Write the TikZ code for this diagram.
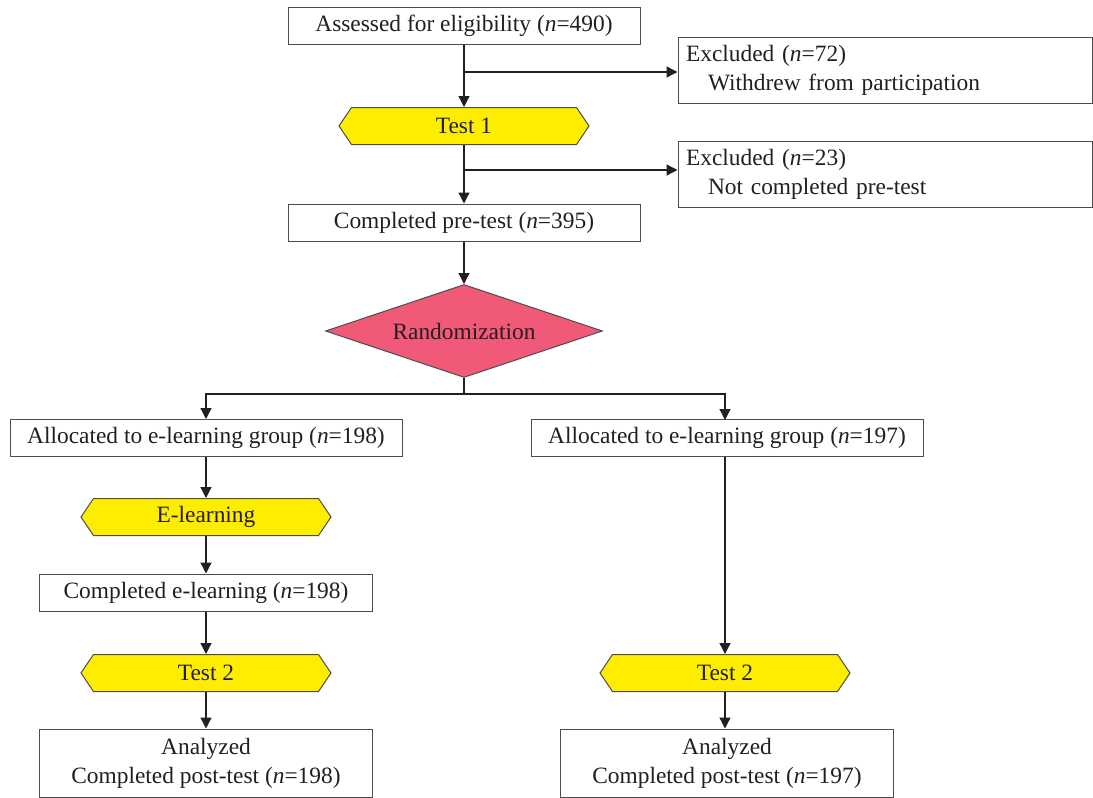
\documentclass[tikz,border=0pt]{standalone}
\usepackage{fontspec}
\setmainfont{Liberation Serif}
\usepackage{tikz}
\usetikzlibrary{arrows.meta,shapes.geometric,shapes.symbols}
\definecolor{ink}{RGB}{35,31,32}
\definecolor{testyellow}{RGB}{255,237,0}
\definecolor{randred}{RGB}{240,90,120}
\newcommand{\nn}{\textit{n}}

\begin{document}
\begin{tikzpicture}[x=0.5pt,y=-0.5pt,
  every node/.style={font=\fontsize{11.7}{14.5}\selectfont,text=ink},
  box/.style={draw=ink!80,line width=0.5pt,fill=white,inner sep=0pt,minimum height=18.5pt},
  exclbox/.style={box,minimum width=207pt,minimum height=33pt,text width=199pt,align=left},
  testhex/.style={draw=ink!80,line width=0.5pt,fill=testyellow,signal,signal to=west and east,
    signal pointer angle=112,minimum width=125pt,minimum height=18.5pt,inner sep=0pt},
  arr/.style={draw=ink,line width=0.65pt,-{Triangle[length=5.5pt,width=5.5pt]}},
  ln/.style={draw=ink,line width=0.65pt}]
\useasboundingbox (0,0) rectangle (1093,798);
% top part
\node[box,minimum width=176pt] (assess) at (464,26) {Assessed for eligibility (\nn=490)};
\node[exclbox] (excl1) at (885,70) {Excluded (\nn=72)\\\hspace*{11pt}Withdrew from participation};
\node[testhex] (test1) at (464,126) {Test 1};
\node[exclbox] (excl2) at (885,174) {Excluded (\nn=23)\\\hspace*{11pt}Not completed pre-test};
\node[box,minimum width=176pt] (pretest) at (464,222.5) {Completed pre-test (\nn=395)};
\node[diamond,aspect=2.98,draw=ink!80,line width=0.5pt,fill=randred,minimum width=138.5pt,minimum height=46.5pt,inner sep=0pt] (rand) at (464,331) {Randomization};
% left arm
\node[box,minimum width=196pt] (alloc1) at (206,438) {Allocated to e-learning group (\nn=198)};
\node[testhex] (elearn) at (206,517) {E-learning};
\node[box,minimum width=166.5pt] (done1) at (206,592.5) {Completed e-learning (\nn=198)};
\node[testhex] (test2a) at (206,673) {Test 2};
\node[box,minimum width=166.5pt,minimum height=34pt,align=center] (anal1) at (206,763) {Analyzed\\Completed post-test (\nn=198)};
% right arm
\node[box,minimum width=196pt] (alloc2) at (727,438) {Allocated to e-learning group (\nn=197)};
\node[testhex] (test2b) at (725,673) {Test 2};
\node[box,minimum width=166.5pt,minimum height=34pt,align=center] (anal2) at (727,763) {Analyzed\\Completed post-test (\nn=197)};
% connectors
\coordinate (b1) at (464,72);
\coordinate (b2) at (464,170);
\coordinate (split) at (464,394);
\draw[arr] (assess.south) -- (test1.north);
\draw[arr] (b1) -- (b1 -| excl1.west);
\draw[arr] (test1.south) -- (pretest.north);
\draw[arr] (b2) -- (b2 -| excl2.west);
\draw[arr] (pretest.south) -- (rand.north);
\draw[ln] (rand.south) -- (split);
\draw[arr] (split) -| (alloc1.north);
\draw[arr] (split) -| (725,420);
\draw[arr] (alloc1.south) -- (elearn.north);
\draw[arr] (elearn.south) -- (done1.north);
\draw[arr] (done1.south) -- (test2a.north);
\draw[arr] (test2a.south) -- (anal1.north);
\draw[arr] (alloc2.south -| test2b.north) -- (test2b.north);
\draw[arr] (test2b.south) -- (test2b.south |- anal2.north);
\end{tikzpicture}
\end{document}
